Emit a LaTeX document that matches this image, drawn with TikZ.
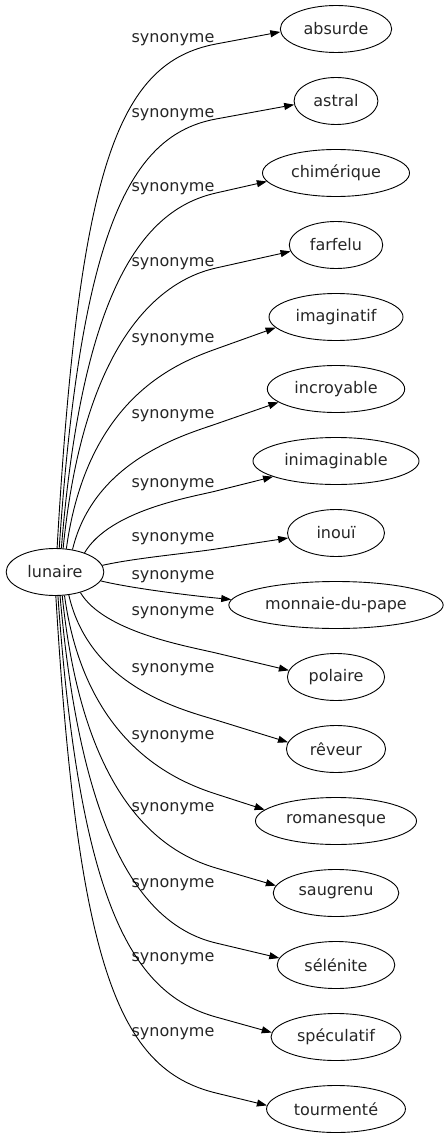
\documentclass[tikz,border=0pt]{standalone}
\usepackage{fontspec}
\setmainfont{DejaVu Sans}
\usetikzlibrary{arrows.meta,shapes.geometric,calc}
\begin{document}
\begin{tikzpicture}[x=1pt,y=-1pt,
  every node/.style={font=\fontsize{16}{19}\selectfont, text=black!85},
  wordnode/.style={draw, ellipse, line width=0.9pt, inner xsep=7pt, inner ysep=0pt, minimum height=47pt, minimum width=72pt},
  lbl/.style={inner sep=0pt},
  rel/.style={draw, line width=0.9pt, -{Triangle[length=10pt,width=7pt]}}]
\useasboundingbox (0,0) rectangle (446,1139);
\node[wordnode] (lun) at (55,572) {lunaire};
\node[wordnode] (t1) at (336,29) {absurde};
\node[wordnode] (t2) at (336,101) {astral};
\node[wordnode] (t3) at (336,173) {chimérique};
\node[wordnode] (t4) at (336,245) {farfelu};
\node[wordnode] (t5) at (336,317) {imaginatif};
\node[wordnode] (t6) at (336,389) {incroyable};
\node[wordnode] (t7) at (336,461) {inimaginable};
\node[wordnode, minimum width=97pt] (t8) at (336,533) {inouï};
\node[wordnode, inner xsep=5pt] (t9) at (336,605) {monnaie-du-pape};
\node[wordnode] (t10) at (336,677) {polaire};
\node[wordnode, inner xsep=9pt] (t11) at (336,749) {rêveur};
\node[wordnode] (t12) at (336,821) {romanesque};
\node[wordnode] (t13) at (336,893) {saugrenu};
\node[wordnode, inner xsep=10pt] (t14) at (336,965) {sélénite};
\node[wordnode] (t15) at (336,1037) {spéculatif};
\node[wordnode] (t16) at (336,1109) {tourmenté};
\node[lbl] (l1) at (173,40) {synonyme};
\node[lbl] (l2) at (173,115) {synonyme};
\node[lbl] (l3) at (173,189) {synonyme};
\node[lbl] (l4) at (173,264) {synonyme};
\node[lbl] (l5) at (173,340) {synonyme};
\node[lbl] (l6) at (173,416) {synonyme};
\node[lbl] (l7) at (173,485) {synonyme};
\node[lbl] (l8) at (173,539) {synonyme};
\node[lbl] (l9) at (173,577) {synonyme};
\node[lbl] (l10) at (173,613) {synonyme};
\node[lbl] (l11) at (173,670) {synonyme};
\node[lbl] (l12) at (173,737) {synonyme};
\node[lbl] (l13) at (173,809) {synonyme};
\node[lbl] (l14) at (173,885) {synonyme};
\node[lbl] (l15) at (173,959) {synonyme};
\node[lbl] (l16) at (173,1034) {synonyme};
\path[rel] (lun.85) .. controls (79,169) and ($(216,44)!-101pt!(t1.183)$) .. (216,44) -- (t1.183);
\path[rel] (lun.80) .. controls (81,226) and ($(216,119)!-86pt!(t2.185)$) .. (216,119) -- (t2.185);
\path[rel] (lun.75) .. controls (83,281) and ($(216,193)!-71pt!(t3.187)$) .. (216,193) -- (t3.187);
\path[rel] (lun.71) .. controls (84,338) and ($(216,268)!-56pt!(t4.188)$) .. (216,268) -- (t4.188);
\path[rel] (lun.64) .. controls (87,398) and ($(216,349)!-42pt!(t5.190)$) .. (216,349) -- (t5.190);
\path[rel] (lun.52) .. controls (94,460) and ($(216,424)!-32pt!(t6.193)$) .. (216,424) -- (t6.193);
\path[rel] (lun.33) .. controls (110,510) and ($(216,491)!-25pt!(t7.194)$) .. (216,491) -- (t7.194);
\path[rel] (lun.8) .. controls (135,558) and ($(216,549)!-30pt!(t8.186)$) .. (216,549) -- (t8.186);
\path[rel] (lun.-11) .. controls (130,588) and ($(216,598)!-30pt!(t9.177)$) .. (216,598) -- (t9.177);
\path[rel] (lun.-39) .. controls (104,632) and ($(216,653)!-30pt!(t10.172)$) .. (216,653) -- (t10.172);
\path[rel] (lun.-59) .. controls (90,688) and ($(216,720)!-32pt!(t11.172)$) .. (216,720) -- (t11.172);
\path[rel] (lun.-68) .. controls (85,744) and ($(216,794)!-42pt!(t12.171)$) .. (216,794) -- (t12.171);
\path[rel] (lun.-73) .. controls (83,800) and ($(216,868)!-56pt!(t13.173)$) .. (216,868) -- (t13.173);
\path[rel] (lun.-78) .. controls (82,850) and ($(216,943)!-70pt!(t14.173)$) .. (216,943) -- (t14.173);
\path[rel] (lun.-83) .. controls (80,911) and ($(216,1017)!-84pt!(t15.176)$) .. (216,1017) -- (t15.176);
\path[rel] (lun.-88) .. controls (78,968) and ($(216,1093)!-100pt!(t16.177)$) .. (216,1093) -- (t16.177);
\end{tikzpicture}
\end{document}
